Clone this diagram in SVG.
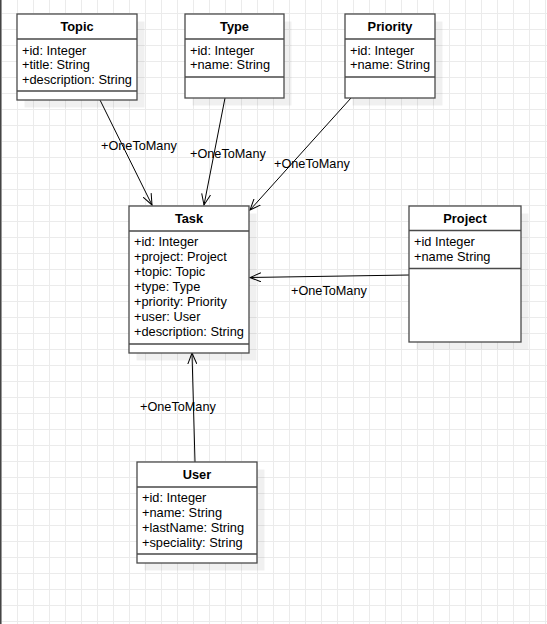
<svg xmlns="http://www.w3.org/2000/svg" width="547" height="624" viewBox="0 0 547 624">
<style>
.box{fill:#fff;stroke:#4a4a4a;stroke-width:1.3}
.shadow{fill:#000;fill-opacity:0.06}
.div{stroke:#4a4a4a;stroke-width:1.3;fill:none}
.title{font-family:"Liberation Sans",Arial,sans-serif;font-size:12.8px;font-weight:bold;fill:#000;text-anchor:middle}
.attr{font-family:"Liberation Sans",Arial,sans-serif;font-size:12.8px;fill:#000}
.lbl{font-family:"Liberation Sans",Arial,sans-serif;font-size:12.7px;fill:#000}
.conn{stroke:#000;stroke-width:1;fill:none;marker-end:url(#open)}
</style>
<defs>
<pattern id="grid" x="1" y="13" width="16" height="16" patternUnits="userSpaceOnUse">
<path d="M0 0.5H16M0.5 0V16" stroke="#ebebeb" stroke-width="1" fill="none"/>
</pattern>
<marker id="open" viewBox="0 0 12 10" refX="11" refY="5" markerWidth="12" markerHeight="10" markerUnits="userSpaceOnUse" orient="auto">
<path d="M0,0.5 L11,5 L0,9.5" fill="none" stroke="#000" stroke-width="1"/>
</marker>
</defs>
<rect width="547" height="624" fill="#fff"/>
<rect width="547" height="624" fill="url(#grid)"/>
<rect x="0" y="0" width="1.5" height="624" fill="#444"/>

<g id="connectors">
<path class="conn" d="M100,100 L152,205"/>
<path class="conn" d="M225,98 L204,205"/>
<path class="conn" d="M351,98 L250,210"/>
<path class="conn" d="M409,275 L250,277.5"/>
<path class="conn" d="M195,462 L192,353"/>
<text class="lbl" x="101" y="149.5">+OneToMany</text>
<text class="lbl" x="190" y="158">+OneToMany</text>
<text class="lbl" x="274" y="168">+OneToMany</text>
<text class="lbl" x="291" y="294.5">+OneToMany</text>
<text class="lbl" x="140" y="411">+OneToMany</text>
</g>

<g id="topic">
<rect class="shadow" x="24.5" y="21.5" width="120" height="86"/>
<rect class="box" x="17" y="14" width="120" height="86"/>
<path class="div" d="M17,39H137M17,91H137"/>
<text class="title" x="77" y="30.5">Topic</text>
<text class="attr" x="22" y="54.5">+id: Integer</text>
<text class="attr" x="22" y="69">+title: String</text>
<text class="attr" x="22" y="84">+description: String</text>
</g>

<g id="type">
<rect class="shadow" x="192.5" y="21.5" width="99" height="84"/>
<rect class="box" x="185" y="14" width="99" height="84"/>
<path class="div" d="M185,39H284M185,77H284"/>
<text class="title" x="234.5" y="30.5">Type</text>
<text class="attr" x="190" y="54.5">+id: Integer</text>
<text class="attr" x="190" y="69">+name: String</text>
</g>

<g id="priority">
<rect class="shadow" x="352.5" y="21.5" width="90" height="84"/>
<rect class="box" x="345" y="14" width="90" height="84"/>
<path class="div" d="M345,39H435M345,77H435"/>
<text class="title" x="390" y="30.5">Priority</text>
<text class="attr" x="350" y="54.5">+id: Integer</text>
<text class="attr" x="350" y="69">+name: String</text>
</g>

<g id="task">
<rect class="shadow" x="136.5" y="213.5" width="120" height="147"/>
<rect class="box" x="129" y="206" width="120" height="147"/>
<path class="div" d="M129,231H249M129,344H249"/>
<text class="title" x="189" y="222.5">Task</text>
<text class="attr" x="134" y="246">+id: Integer</text>
<text class="attr" x="134" y="261">+project: Project</text>
<text class="attr" x="134" y="276">+topic: Topic</text>
<text class="attr" x="134" y="291">+type: Type</text>
<text class="attr" x="134" y="306">+priority: Priority</text>
<text class="attr" x="134" y="321">+user: User</text>
<text class="attr" x="134" y="336">+description: String</text>
</g>

<g id="project">
<rect class="shadow" x="416.5" y="213.5" width="112" height="136"/>
<rect class="box" x="409" y="206" width="112" height="136"/>
<path class="div" d="M409,230.5H521M409,268.5H521"/>
<text class="title" x="465" y="222.5">Project</text>
<text class="attr" x="414" y="246">+id Integer</text>
<text class="attr" x="414" y="261">+name String</text>
</g>

<g id="user">
<rect class="shadow" x="144.5" y="469.5" width="120" height="101"/>
<rect class="box" x="137" y="462" width="120" height="101"/>
<path class="div" d="M137,487H257M137,554H257"/>
<text class="title" x="197" y="479">User</text>
<text class="attr" x="142" y="502">+id: Integer</text>
<text class="attr" x="142" y="517">+name: String</text>
<text class="attr" x="142" y="532">+lastName: String</text>
<text class="attr" x="142" y="547">+speciality: String</text>
</g>
</svg>
